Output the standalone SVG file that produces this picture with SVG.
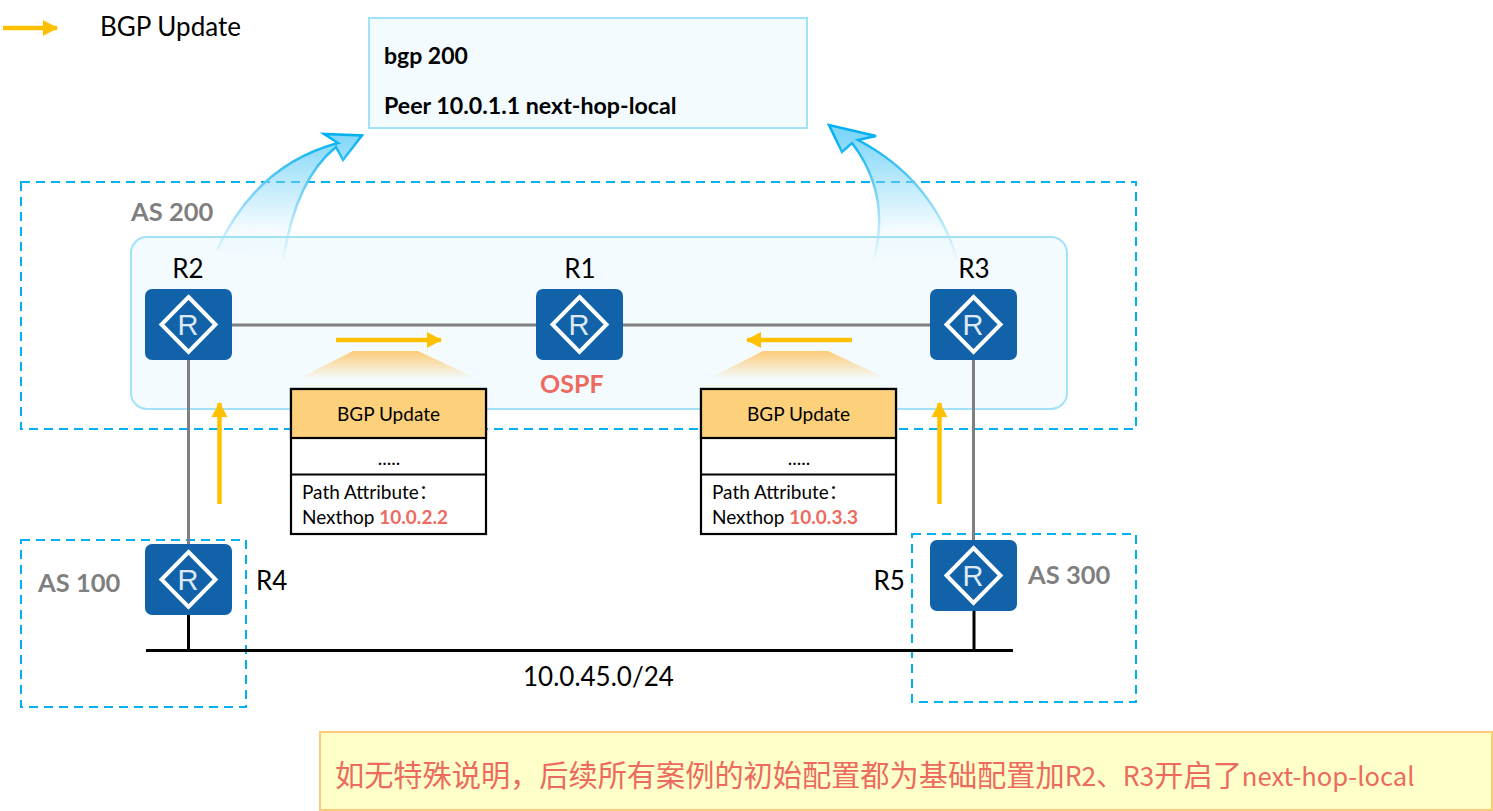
<svg xmlns="http://www.w3.org/2000/svg" width="1493" height="811" viewBox="0 0 1493 811">
<style>
text{font-family:"Lato","Open Sans","Noto Sans CJK SC",sans-serif;fill:#000}
.lbl{font-size:26px}
.as{font-size:25.500px;font-weight:700;fill:#7f7f7f}
.small{font-size:19px}
.red{fill:#ec6a5e;font-weight:700}
.dash{fill:none;stroke:#00b0f0;stroke-width:2;stroke-dasharray:9 6}
.link{fill:none;stroke:#7f7f7f;stroke-width:3}
.bus{fill:none;stroke:#000;stroke-width:3}
.ybar{fill:none;stroke:#ffc000;stroke-width:4.500}
.box{fill:#fff;stroke:#000;stroke-width:2.200}
.rbody{fill:#1262a9}
.rdia{fill:none;stroke:#fff;stroke-width:4}
.rtxt{font-family:"Liberation Sans",sans-serif;font-size:29px;fill:#dce9f5;text-anchor:middle}
.mid{text-anchor:middle}
</style>
<defs>
<linearGradient id="cv" gradientUnits="userSpaceOnUse" x1="0" y1="135" x2="0" y2="262">
<stop offset="0" stop-color="#80d6f9"/><stop offset=".35" stop-color="#80d6f9" stop-opacity=".55"/><stop offset=".75" stop-color="#80d6f9" stop-opacity=".08"/><stop offset="1" stop-color="#80d6f9" stop-opacity="0"/>
</linearGradient>
<linearGradient id="cs" gradientUnits="userSpaceOnUse" x1="0" y1="135" x2="0" y2="262">
<stop offset="0" stop-color="#00b0f0"/><stop offset=".4" stop-color="#66cdf5"/><stop offset=".8" stop-color="#a8e3fa" stop-opacity=".6"/><stop offset="1" stop-color="#a8e3fa" stop-opacity="0"/>
</linearGradient>
<linearGradient id="tp" x1="0" y1="0" x2="0" y2="1">
<stop offset="0" stop-color="#fdcb78"/><stop offset="1" stop-color="#fdcb78" stop-opacity="0"/>
</linearGradient>
<marker id="ya" markerUnits="userSpaceOnUse" markerWidth="16" markerHeight="16" refX="14" refY="8" orient="auto"><path d="M0,0L15,8L0,16z" fill="#ffc000"/></marker>
</defs>

<g id="legend">
<path class="ybar" d="M3,28H57" marker-end="url(#ya)"/>
<text class="lbl" x="100" y="36">BGP Update</text>
</g>

<g id="as200-region">
<rect x="21" y="182" width="1115" height="247" class="dash"/>
<rect x="131" y="237" width="936" height="172" rx="16" fill="#f3fbfe" stroke="#a1e2f9" stroke-width="2"/>
<text class="as" x="131" y="221">AS 200</text>
</g>
<g id="as100-region"><rect x="21" y="540" width="225" height="167" class="dash"/><text class="as" x="38" y="592">AS 100</text></g>
<g id="as300-region"><rect x="912" y="534" width="224" height="168" class="dash"/><text class="as" x="1028" y="584">AS 300</text></g>

<g id="connectors">
<path class="link" d="M232,325H536M623,325H930M188.500,360V544M973.500,360V540"/>
<path class="bus" d="M146,650.500H1013M188.500,615V650M974,611V650"/>
<path class="ybar" d="M336,340H441" marker-end="url(#ya)"/>
<path class="ybar" d="M852,340H747" marker-end="url(#ya)"/>
<path class="ybar" d="M219.500,504V403" marker-end="url(#ya)"/>
<path class="ybar" d="M939.500,504V403" marker-end="url(#ya)"/>
<path fill="url(#cv)" stroke="url(#cs)" stroke-width="2.500" d="M217,250Q256,165 338,143L324,134L362,135.500L343,160L336,147Q295,180 283,262"/>
<path fill="url(#cv)" stroke="url(#cs)" stroke-width="2.500" d="M958,262Q934,180 858,140L876,136L829,125L842,152L852,143Q892,195 873,262"/>
</g>

<g id="config">
<rect x="369" y="18" width="438" height="110" fill="#f3fbfe" stroke="#a1e2f9" stroke-width="2"/>
<text x="384" y="64" font-size="23" font-weight="700">bgp 200</text>
<text x="384" y="114" font-size="23.200" font-weight="700">Peer 10.0.1.1 next-hop-local</text>
</g>

<g id="R2"><rect class="rbody" x="145" y="289" width="87" height="71" rx="7"/><path class="rdia" d="M188.500,297L215.500,324.500L188.500,352L161.500,324.500z"/><text class="rtxt" x="188" y="335">R</text><text class="lbl mid" x="188" y="278">R2</text></g>
<g id="R1"><rect class="rbody" x="536" y="289" width="87" height="71" rx="7"/><path class="rdia" d="M579.500,297L606.500,324.500L579.500,352L552.500,324.500z"/><text class="rtxt" x="579" y="335">R</text><text class="lbl mid" x="580" y="278">R1</text></g>
<g id="R3"><rect class="rbody" x="930" y="289" width="87" height="71" rx="7"/><path class="rdia" d="M973.500,297L1000.500,324.500L973.500,352L946.500,324.500z"/><text class="rtxt" x="973" y="335">R</text><text class="lbl mid" x="974" y="278">R3</text></g>
<g id="R4"><rect class="rbody" x="145" y="544" width="87" height="71" rx="7"/><path class="rdia" d="M188.500,552L215.500,579.500L188.500,607L161.500,579.500z"/><text class="rtxt" x="188" y="590">R</text><text class="lbl" x="256" y="590">R4</text></g>
<g id="R5"><rect class="rbody" x="930" y="540" width="87" height="71" rx="7"/><path class="rdia" d="M973.500,548L1000.500,575.500L973.500,603L946.500,575.500z"/><text class="rtxt" x="973" y="586">R</text><text class="lbl" x="873.500" y="590">R5</text></g>

<text class="red" x="540" y="393" font-size="25" id="ospf">OSPF</text>

<g id="update-left">
<path d="M353,351H418L478,379H298z" fill="url(#tp)"/>
<rect class="box" x="291" y="389" width="195" height="145"/>
<rect x="291" y="389" width="195" height="49" fill="#fdd07c" stroke="#000" stroke-width="2.200"/>
<path d="M291,474.500H486" stroke="#000" stroke-width="2.200"/>
<text class="small mid" x="388.500" y="421">BGP Update</text>
<text class="small mid" x="389" y="465">.....</text>
<text class="small" x="302" y="499">Path Attribute：</text>
<text class="small" x="302" y="524">Nexthop <tspan class="red">10.0.2.2</tspan></text>
</g>
<g id="update-right">
<path d="M763,351H828L888,379H708z" fill="url(#tp)"/>
<rect class="box" x="701" y="389" width="195" height="145"/>
<rect x="701" y="389" width="195" height="49" fill="#fdd07c" stroke="#000" stroke-width="2.200"/>
<path d="M701,474.500H896" stroke="#000" stroke-width="2.200"/>
<text class="small mid" x="798.500" y="421">BGP Update</text>
<text class="small mid" x="799" y="465">.....</text>
<text class="small" x="712" y="499">Path Attribute：</text>
<text class="small" x="712" y="524">Nexthop <tspan class="red">10.0.3.3</tspan></text>
</g>

<text class="lbl" x="523" y="686" id="subnet">10.0.45.0/24</text>

<g id="note">
<rect x="320" y="732" width="1172" height="78" fill="#ffffc9" stroke="#fdcb78" stroke-width="2"/>
<text x="335" y="786" font-size="29.200" style="fill:#ec6a5e;font-family:'Noto Sans CJK SC','Lato',sans-serif">如无特殊说明，后续所有案例的初始配置都为基础配置加<tspan font-size="26.500">R2、R3</tspan>开启了<tspan font-size="25.600">next-hop-local</tspan></text>
</g>
</svg>
